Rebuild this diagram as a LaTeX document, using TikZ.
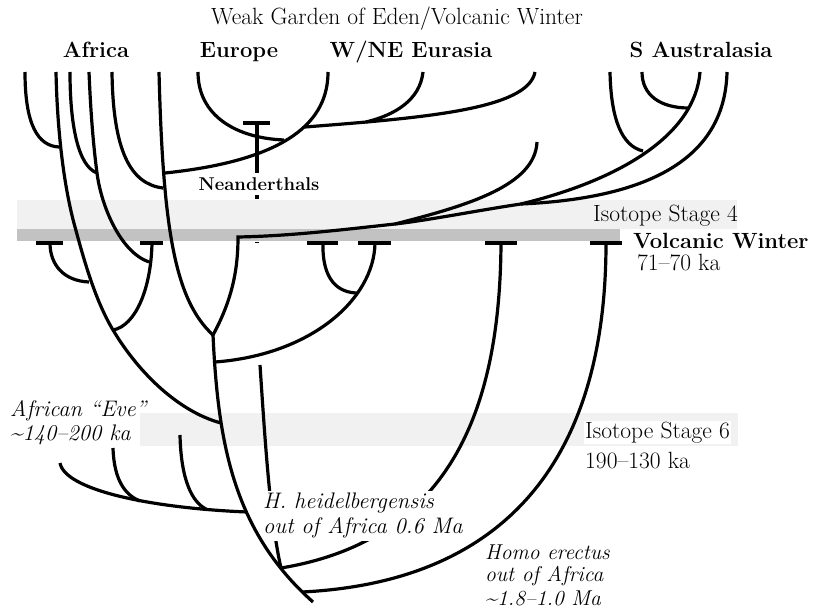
\documentclass[tikz,border=0pt]{standalone}
\usepackage{fontspec}
\begin{document}
\begin{tikzpicture}[x=1pt,y=-1pt,
  br/.style={line width=3.2pt},
  tbar/.style={line width=4.5pt},
  lblrm/.style={inner sep=0pt, font=\fontsize{23.5}{26}\selectfont},
  lblbf/.style={inner sep=0pt, font=\fontsize{22}{26}\selectfont\bfseries},
  lblit/.style={inner sep=0pt, font=\fontsize{22.5}{26}\selectfont\itshape},
  lblits/.style={inner sep=0pt, font=\fontsize{21.5}{24}\selectfont\itshape},
  knock/.style={fill=white, inner sep=1.5pt, text height=16pt, text depth=6pt}]
\useasboundingbox (0,0) rectangle (813,610);
% stippled bands
\fill[gray!11] (17,200) rectangle (737,229);
\fill[gray!48] (17,229) rectangle (620,241);
\fill[gray!11] (140,413) rectangle (738,446);

% ---- coordinates ----
\coordinate (a1t) at (25,72);  \coordinate (a2t) at (56,72);
\coordinate (a3t) at (70,72);  \coordinate (a4t) at (89,72);
\coordinate (a5t) at (112,72); \coordinate (a6t) at (159,72);
\coordinate (ja1) at (59,147); \coordinate (ja2) at (75,227);
\coordinate (ja3) at (89,282); \coordinate (ja4) at (113,330);
\coordinate (ja5) at (221,423);
\coordinate (jb1) at (97,173); \coordinate (jb2) at (149,262);
\coordinate (jc1) at (163,188); \coordinate (jc2) at (165,173);
\coordinate (fork) at (213,335);
\coordinate (e1t) at (198,72); \coordinate (e2t) at (328,72);
\coordinate (je1) at (284,140);
\coordinate (w1t) at (423,72); \coordinate (w2t) at (535,72);
\coordinate (jw0) at (305,127); \coordinate (jw1) at (366,122);
\coordinate (w3t) at (537,142);
\coordinate (s1t) at (610,72); \coordinate (s2t) at (642,72);
\coordinate (s3t) at (700,72); \coordinate (s4t) at (727,72);
\coordinate (js1) at (643,151); \coordinate (js2) at (689,108);
\coordinate (sa) at (521,204); \coordinate (m0) at (395,224);
\coordinate (corner) at (238,237);
% T bars
\coordinate (t1l) at (36,243);  \coordinate (t1) at (50,243);  \coordinate (t1r) at (63,243);
\coordinate (t2l) at (140,243); \coordinate (t2) at (152,243); \coordinate (t2r) at (163,243);
\coordinate (t3l) at (307,243); \coordinate (t3) at (323,243); \coordinate (t3r) at (338,243);
\coordinate (t4l) at (358,243); \coordinate (t4) at (375,243); \coordinate (t4r) at (391,243);
\coordinate (t5l) at (485,243); \coordinate (t5) at (501,243); \coordinate (t5r) at (517,243);
\coordinate (t6l) at (590,243); \coordinate (t6) at (606,243); \coordinate (t6r) at (622,243);
\coordinate (tnl) at (243,123); \coordinate (tn) at (257,123); \coordinate (tnr) at (270,123);
\coordinate (tnb) at (257,173);
\coordinate (jt) at (358,293); \coordinate (jt4) at (215,362);
\coordinate (bot) at (313,602);
\coordinate (ev1t) at (60,463); \coordinate (ev2t) at (113,448); \coordinate (ev3t) at (180,435);
\coordinate (je) at (247,512); \coordinate (jev2) at (140,501); \coordinate (jev3) at (206,509);
\coordinate (hh) at (260,365); \coordinate (jh) at (281,568); \coordinate (jt6) at (302,592);

% ---- T bars ----
\foreach \l/\r in {t1l/t1r,t2l/t2r,t3l/t3r,t4l/t4r,t5l/t5r,t6l/t6r,tnl/tnr}
  \draw[tbar] (\l) -- (\r);

% ---- Africa ----
\draw[br] (a1t) .. controls (25,125) and (38,146) .. (ja1);
\draw[br] (a2t) .. controls (57,120) and (62,180) .. (ja2)
  .. controls (84,260) and (95,300) .. (ja4)
  .. controls (140,375) and (180,412) .. (ja5);
\draw[br] (a3t) .. controls (70,125) and (78,166) .. (jb1);
\draw[br] (a4t) .. controls (91,120) and (94,150) .. (jb1)
  .. controls (101,205) and (120,252) .. (jb2);
\draw[br] (t1) .. controls (50,265) and (64,281) .. (ja3);
\draw[br] (t2) .. controls (151,290) and (135,326) .. (ja4);
\draw[br] (a5t) .. controls (113,150) and (130,184) .. (jc1);
\draw[br] (a6t) .. controls (163,230) and (175,300) .. (fork);

% ---- Europe / Neanderthals ----
\draw[br] (e1t) .. controls (198,115) and (235,138) .. (je1);
\draw[br] (e2t) .. controls (328,120) and (290,160) .. (jc2);
\draw[br] (tn) -- (tnb);
\fill (255,195) rectangle (259,199);
\fill (255,241.5) rectangle (259,243);

% ---- W/NE Eurasia ----
\draw[br] (w2t) .. controls (528,110) and (420,118) .. (jw0);
\draw[br] (w1t) .. controls (420,100) and (395,115) .. (jw1);
\draw[br] (w3t) .. controls (535,185) and (470,205) .. (m0);

% ---- S Australasia ----
\draw[br] (s1t) .. controls (611,120) and (622,146) .. (js1);
\draw[br] (s2t) .. controls (642,95) and (660,108) .. (js2);
\draw[br] (s3t) .. controls (695,135) and (620,180) .. (sa);
\draw[br] (s4t) .. controls (725,155) and (655,198) .. (sa);
\draw[br] (sa) .. controls (480,210) and (430,220) .. (m0);
\draw[br] (fork) .. controls (232,300) and (238,270) .. (corner)
  .. controls (290,236) and (340,230) .. (m0);

% ---- central Ts ----
\draw[br] (t3) .. controls (322,280) and (338,293) .. (jt);
\draw[br] (t4) .. controls (374,300) and (310,355) .. (jt4);

% ---- erectus / heidelbergensis ----
\draw[br] (t5) .. controls (500,410) and (450,540) .. (jh);
\draw[br] (hh) .. controls (265,440) and (270,520) .. (jh);
\draw[br] (t6) .. controls (606,460) and (505,582) .. (jt6);

% ---- Eve group ----
\draw[br] (ev1t) .. controls (65,490) and (150,508) .. (je);
\draw[br] (ev2t) .. controls (114,480) and (125,495) .. (jev2);
\draw[br] (ev3t) .. controls (181,480) and (192,502) .. (jev3);

% ---- labels ----
\node[lblrm, anchor=base] (title) at (397,25) {Weak Garden of Eden/Volcanic Winter};
\node[lblbf, anchor=base] (africa) at (96,57) {Africa};
\node[lblbf, anchor=base] (europe) at (239,57) {Europe};
\node[lblbf, anchor=base] (wne) at (411,57) {W/NE Eurasia};
\node[lblbf, anchor=base] (saus) at (701,57) {S Australasia};
\node[inner sep=0pt, font=\fontsize{18.5}{21}\selectfont\bfseries, anchor=base] (nean) at (259,190) {Neanderthals};
\node[lblrm, anchor=base west] (is4) at (593,221) {Isotope Stage 4};
\node[lblbf, anchor=base west] (vw) at (633,248) {Volcanic Winter};
\node[lblrm, anchor=base west] (vwka) at (637,270) {71–70 ka};
\node[lblrm, anchor=base west, fill=white, inner sep=1pt] (is6) at (584,438) {Isotope Stage 6};
\node[lblrm, anchor=base west] (is6ka) at (585,468) {190–130 ka};
\node[lblit, anchor=base west] (eve) at (10,416) {African ``Eve''};
\node[lblit, anchor=base west] (eveka) at (10,440) {\textasciitilde140–200 ka};
\node[lblit, knock, anchor=base west] (hh1) at (261.5,508) {H. heidelbergensis};
\node[lblit, knock, anchor=base west] (hh2) at (261.5,533) {out of Africa 0.6 Ma};
\node[lblits, anchor=base west] (he1) at (485,559) {Homo erectus};
\node[lblits, anchor=base west] (he2) at (485,581) {out of Africa};
\node[lblits, anchor=base west] (he3) at (485,605) {\textasciitilde1.8–1.0 Ma};

% ---- main trunk (on top) ----
\draw[br] (fork) .. controls (218,440) and (232,530) .. (bot);
\end{tikzpicture}
\end{document}
